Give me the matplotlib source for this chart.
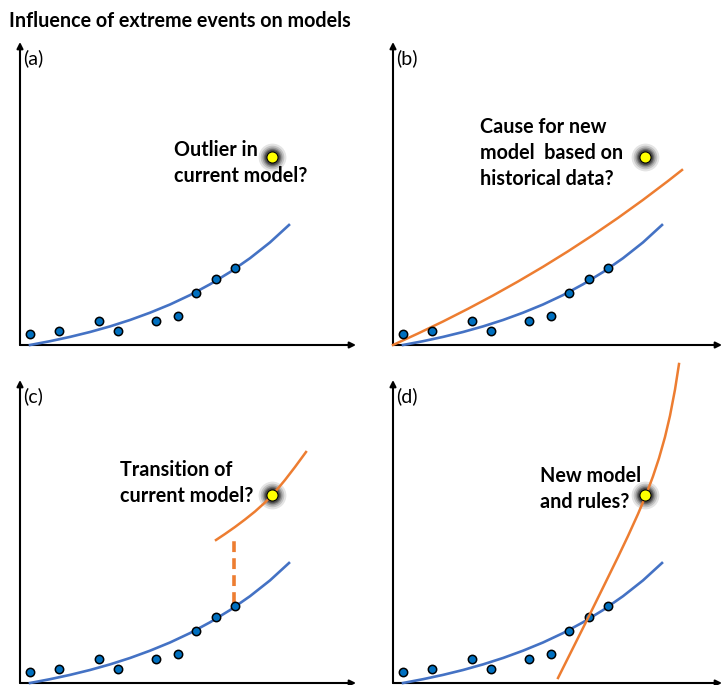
import matplotlib.pyplot as plt

plt.rcParams['font.family'] = ['Lato', 'DejaVu Sans']

# observations (same in every panel), axis units
obs_x = [10, 39, 79, 98, 136, 158, 176, 196, 215]
obs_y = [11, 14, 24, 14, 24, 29, 52, 66, 77]

# current model curve
fit_x = [10, 30, 50, 70, 90, 110, 130, 150, 170, 190, 210, 230, 250, 269]
fit_y = [0, 3.8, 8.1, 13, 18.6, 25, 32.3, 40.5, 49.9, 60.7, 72.9, 86.8,
         102.6, 120]

# new model curves
new_b_x = [0, 25, 50, 75, 100, 125, 150, 175, 200, 225, 250, 275, 289]
new_b_y = [0, 11.5, 23.5, 36.2, 49.5, 63.5, 78.2, 93.7, 110, 127.1, 145.1,
           164, 175]
new_c_x = [196, 205, 215, 225, 235, 245, 255, 265, 275, 286]
new_c_y = [143, 149, 156, 163.5, 171.5, 180.5, 191, 203, 216, 231]
jump_x = [214, 214]
jump_y = [80, 144]
new_d_x = [165, 180, 196, 210, 225, 235, 245, 253, 260, 266, 272, 277, 282,
           286]
new_d_y = [5, 35, 67, 95.4, 126, 147, 169, 188, 206.7, 224.8, 246, 267.3,
           293.4, 319]

# extreme event
event_x = 252
event_y = 188

labels = ['(a)', '(b)', '(c)', '(d)']
notes = ['Outlier in\ncurrent model?',
         'Cause for new\nmodel  based on\nhistorical data?',
         'Transition of\ncurrent model?',
         'New model\nand rules?']
note_pos = [(154, 182), (87, 192), (100, 200), (147, 194)]

BLUE = '#4472C4'
ORANGE = '#ED7D31'

W, H = 723, 685
fig = plt.figure(figsize=(W / 100, H / 100), dpi=100)
fig.text(9 / W, 1 - 21 / H, 'Influence of extreme events on models',
         fontsize=14.2, fontweight='bold', va='center', ha='left')

# panel origin in pixels and axis lengths
origins = [(20, 345), (393, 345), (20, 683), (393, 683)]
xlen = [336, 329, 336, 329]
ylen = 303

axes = []
for i, (ox, oy) in enumerate(origins):
    ax = fig.add_axes([ox / W, 1 - oy / H, 340 / W, 305 / H])
    ax.set_xlim(0, 340)
    ax.set_ylim(0, 305)
    ax.axis('off')
    axes.append(ax)

    # axes arrows
    ax.annotate('', xy=(xlen[i], 0), xytext=(0, 0), annotation_clip=False,
                arrowprops=dict(arrowstyle='-|>', lw=1.5, color='black',
                                mutation_scale=9, shrinkA=0, shrinkB=0))
    ax.annotate('', xy=(0, ylen), xytext=(0, 0), annotation_clip=False,
                arrowprops=dict(arrowstyle='-|>', lw=1.5, color='black',
                                mutation_scale=9, shrinkA=0, shrinkB=0))
    ax.text(3, 287, labels[i], fontsize=14, va='center', ha='left')

    ax.plot(fit_x, fit_y, color=BLUE, lw=1.9, clip_on=False, zorder=3)
    ax.plot(obs_x, obs_y, 'o', color='#0070C0', ms=6, mec='black', mew=1.1,
            clip_on=False, zorder=4)

    # glowing extreme event
    for s, a in zip([20, 17, 14.5, 12.5, 11], [0.12, 0.18, 0.26, 0.36, 0.5]):
        ax.plot(event_x, event_y, 'o', color='#282828', ms=s, mew=0,
                alpha=a, clip_on=False, zorder=5)
    ax.plot(event_x, event_y, 'o', color='#FFFF00', ms=8, mec='black',
            mew=0.8, clip_on=False, zorder=7)

    ax.text(note_pos[i][0], note_pos[i][1], notes[i], fontsize=14.2,
            fontweight='bold', va='center', ha='left', linespacing=1.35)

axes[1].plot(new_b_x, new_b_y, color=ORANGE, lw=1.8, clip_on=False, zorder=3)
axes[2].plot(new_c_x, new_c_y, color=ORANGE, lw=1.8, clip_on=False, zorder=6)
axes[2].plot(jump_x, jump_y, color=ORANGE, lw=2.6, dashes=(3.0, 1.7),
             clip_on=False, zorder=3)
axes[3].plot(new_d_x, new_d_y, color=ORANGE, lw=1.8, clip_on=False, zorder=6)

fig.savefig('out.png', dpi=100)
